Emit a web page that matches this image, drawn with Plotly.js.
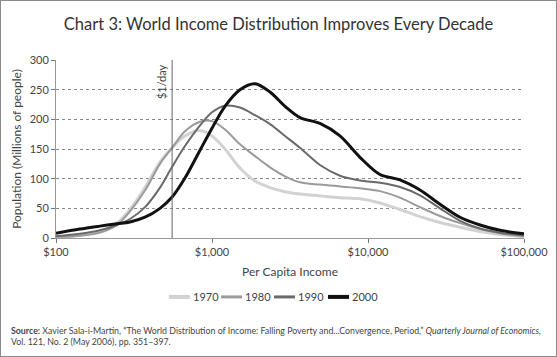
<!DOCTYPE html>
<html>
<head>
<meta charset="utf-8">
<script src="https://cdn.plot.ly/plotly-3.0.1.min.js"></script>
<style>
  html, body { margin: 0; padding: 0; background: #fff; }
  #frame { position: absolute; left: 0; top: 0; width: 555px; height: 355px; border: 1px solid #8a8a8a; }
  #chart { width: 555px; height: 355px; }
</style>
</head>
<body>
<div id="frame"><div id="chart"></div></div>
<script>
// Per capita income (US$, log scale)
const income = [100, 142, 191, 246, 298, 372, 464, 555, 671, 838, 1000, 1211, 1511, 1887, 2355, 2938, 3664, 4920, 6614, 8884, 11938, 16030, 21540, 28940, 38900, 52270, 70200, 100000];
// Population (millions of people)
const pop1970 = [1, 4, 10, 25, 48, 85, 128, 152, 172, 181, 172, 150, 118, 96, 85, 78, 74, 71, 68, 66, 59, 48, 36, 26, 18, 11, 6, 2];
const pop1980 = [2, 4, 9, 22, 45, 80, 125, 152, 180, 196, 197, 183, 158, 138, 119, 104, 94, 90, 87, 84, 79, 68, 52, 37, 25, 15, 8, 3];
const pop1990 = [3, 7, 13, 22, 32, 52, 85, 120, 155, 190, 212, 223, 220, 207, 192, 172, 152, 123, 105, 97, 93, 86, 72, 50, 29, 16, 9, 4];
const pop2000 = [8, 15, 20, 24, 27, 35, 50, 69, 101, 148, 185, 222, 250, 260, 246, 222, 203, 193, 172, 136, 107, 98, 81, 57, 35, 22, 13, 7];
const seriesNames = ['1970', '1980', '1990', '2000'];
const seriesValues = [pop1970, pop1980, pop1990, pop2000];
const povertyLine = 555;      // $1/day
const povertyLabel = '$1/day';
const xTickVals = [100, 1000, 10000, 100000];
const xTickText = ['$100', '$1,000', '$10,000', '$100,000'];
const yTickVals = [0, 50, 100, 150, 200, 250, 300];

const colors = ['#d2d2d2', '#9b9b9b', '#6a6a6a', '#111111'];
const widths = [3, 2, 2, 3];

const traces = seriesNames.map((name, i) => ({
  x: income, y: seriesValues[i], name: name, type: 'scatter', mode: 'lines',
  line: { color: colors[i], width: widths[i], shape: 'spline', smoothing: 0.9 }
}));

const font = 'Lato, "Open Sans", sans-serif';

// manual compact legend (paper coordinates)
const legendStarts = [0.2411, 0.3526, 0.4658, 0.5812];
const swatchLen = 0.045;
const legendY = -0.331;
const legendShapes = seriesNames.map((n, i) => ({
  type: 'line', xref: 'paper', yref: 'paper', x0: legendStarts[i], x1: legendStarts[i] + swatchLen,
  y0: legendY, y1: legendY, line: { color: colors[i], width: widths[i] + 1 }
}));
const legendLabels = seriesNames.map((n, i) => ({
  xref: 'paper', yref: 'paper', x: legendStarts[i] + swatchLen, y: legendY, text: n,
  xanchor: 'left', yanchor: 'middle', showarrow: false, xshift: 1,
  font: { family: font, size: 11, color: '#444' }
}));

const layout = {
  width: 555, height: 355,
  margin: { l: 55, r: 32, t: 59, b: 118 },
  paper_bgcolor: '#fff', plot_bgcolor: '#fff',
  font: { family: font, color: '#444', size: 11 },
  title: { text: 'Chart 3: World Income Distribution Improves Every Decade',
           font: { family: font, size: 16.5, color: '#333' }, x: 0.5, xanchor: 'center', y: 0.935, yanchor: 'middle' },
  showlegend: false,
  xaxis: { type: 'log', range: [2, 5], tickvals: xTickVals, ticktext: xTickText,
           showgrid: false, zeroline: false, showline: true, linecolor: '#999', linewidth: 1,
           ticks: 'outside', ticklen: 4, tickcolor: '#777',
           tickfont: { family: font, size: 11, color: '#444' },
           title: { text: 'Per Capita Income', font: { family: font, size: 12, color: '#444' }, standoff: 10 } },
  yaxis: { range: [0, 300], tickvals: yTickVals, showgrid: true, gridcolor: '#888', griddash: 'dot', gridwidth: 1,
           zeroline: false, showline: true, linecolor: '#999', linewidth: 1,
           ticks: 'outside', ticklen: 4, tickcolor: '#777',
           tickfont: { family: font, size: 11, color: '#444' },
           title: { text: 'Population (Millions of people)', font: { family: font, size: 12, color: '#444' }, standoff: 5 } },
  shapes: [
    { type: 'line', xref: 'x', yref: 'y', x0: povertyLine, x1: povertyLine, y0: 0, y1: 300,
      line: { color: '#666', width: 1 } }
  ].concat(legendShapes),
  annotations: [
    { xref: 'x', yref: 'y', x: Math.log10(povertyLine), y: 300, text: povertyLabel, textangle: -90,
      showarrow: false, xanchor: 'right', yanchor: 'top', xshift: -2, yshift: -2,
      font: { family: font, size: 11, color: '#444' } },
    { xref: 'paper', yref: 'paper', x: -0.1, y: -0.475, xanchor: 'left', yanchor: 'top', align: 'left', showarrow: false,
      text: '<b>Source:</b> Xavier Sala-i-Martin, “The World Distribution of Income: Falling Poverty and...Convergence, Period,” <i>Quarterly Journal of Economics,</i><br>Vol. 121, No. 2 (May 2006), pp. 351–397.',
      font: { family: font, size: 8.8, color: '#444' } }
  ].concat(legendLabels)
};

Plotly.newPlot('chart', traces, layout, { displayModeBar: false, staticPlot: true });
</script>
</body>
</html>
